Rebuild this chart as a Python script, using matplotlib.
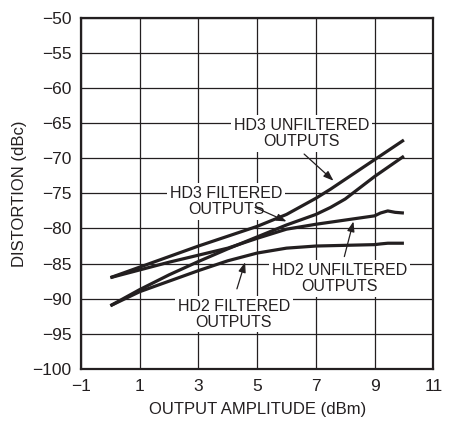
import matplotlib as mpl
mpl.use('Agg')
import matplotlib.pyplot as plt
import numpy as np

# output amplitude (dBm)
x_pts = [0, 1, 2, 3, 4, 5, 6, 7, 7.5, 8, 9, 10]
hd3_unfilt = [-87, -85.5, -84.0, -82.5, -81.1, -79.7, -78.0, -75.7, -74.4, -73.0, -70.2, -67.4]
hd3_filt = [-91, -88.7, -86.6, -84.7, -82.9, -81.2, -79.5, -78.0, -77.0, -75.8, -72.6, -69.7]

x_hd2 = [0, 1, 2, 3, 4, 5, 6, 7, 8, 9, 9.2, 9.45, 9.7, 10]
hd2_unfilt = [-87, -85.9, -84.8, -83.8, -82.8, -81.4, -80.1, -79.4, -78.8, -78.2, -77.8, -77.5, -77.7, -77.8]
hd2_filt = [-91, -89.0, -87.5, -86.0, -84.6, -83.5, -82.8, -82.5, -82.4, -82.3, -82.2, -82.1, -82.1, -82.1]

x_ticks = [-1, 1, 3, 5, 7, 9, 11]
y_ticks = [-100, -95, -90, -85, -80, -75, -70, -65, -60, -55, -50]

plt.rcParams['font.family'] = ['Liberation Sans', 'DejaVu Sans']

ink = '#231f20'
fig = plt.figure(figsize=(4.58, 4.25), dpi=100)
ax = fig.add_axes([0.177, 0.132, 0.769, 0.826])

ax.set_xlim(-1, 11)
ax.set_ylim(-100, -50)
ax.set_xticks(x_ticks)
ax.set_yticks(y_ticks)
ax.set_xticklabels([str(v).replace('-', '\u2212') for v in x_ticks])
ax.set_yticklabels([str(v).replace('-', '\u2212') for v in y_ticks])
ax.tick_params(length=0, labelsize=12.5, colors=ink, pad=7)
ax.grid(True, color=ink, linewidth=0.9, zorder=0)
ax.set_axisbelow(True)
for s in ax.spines.values():
    s.set_linewidth(1.6)
    s.set_color(ink)

lw = 2.3
for xs, ys in [(x_pts, hd3_unfilt), (x_pts, hd3_filt), (x_hd2, hd2_unfilt), (x_hd2, hd2_filt)]:
    ax.plot(xs, ys, color=ink, linewidth=lw, solid_capstyle='butt', zorder=3)

box = dict(facecolor='white', edgecolor='none', pad=2)
fs = 11.5
ax.text(6.5, -66.5, 'HD3 UNFILTERED\nOUTPUTS', ha='center', va='center',
        fontsize=fs, color=ink, bbox=box, zorder=2, linespacing=1.1)
ax.text(3.95, -76.2, 'HD3 FILTERED\nOUTPUTS', ha='center', va='center',
        fontsize=fs, color=ink, bbox=box, zorder=2, linespacing=1.1)
ax.text(7.8, -87.1, 'HD2 UNFILTERED\nOUTPUTS', ha='center', va='center',
        fontsize=fs, color=ink, bbox=box, zorder=2, linespacing=1.1)
ax.text(4.2, -92.2, 'HD2 FILTERED\nOUTPUTS', ha='center', va='center',
        fontsize=fs, color=ink, bbox=box, zorder=2, linespacing=1.1)

arrow = dict(arrowstyle='-|>,head_length=0.6,head_width=0.22', color=ink, lw=0.9,
             shrinkA=0, shrinkB=0)
ax.annotate('', xy=(7.6, -73.2), xytext=(6.6, -69.4), arrowprops=arrow, zorder=4)
ax.annotate('', xy=(6.0, -79.0), xytext=(4.93, -77.0), arrowprops=arrow, zorder=4)
ax.annotate('', xy=(8.28, -79.0), xytext=(7.97, -84.0), arrowprops=arrow, zorder=4)
ax.annotate('', xy=(4.59, -84.8), xytext=(4.31, -88.6), arrowprops=arrow, zorder=4)

ax.set_xlabel('OUTPUT AMPLITUDE (dBm)', fontsize=12, color=ink, labelpad=6)
ax.set_ylabel('DISTORTION (dBc)', fontsize=12, color=ink, labelpad=4)

plt.savefig('out.png', dpi=100)
